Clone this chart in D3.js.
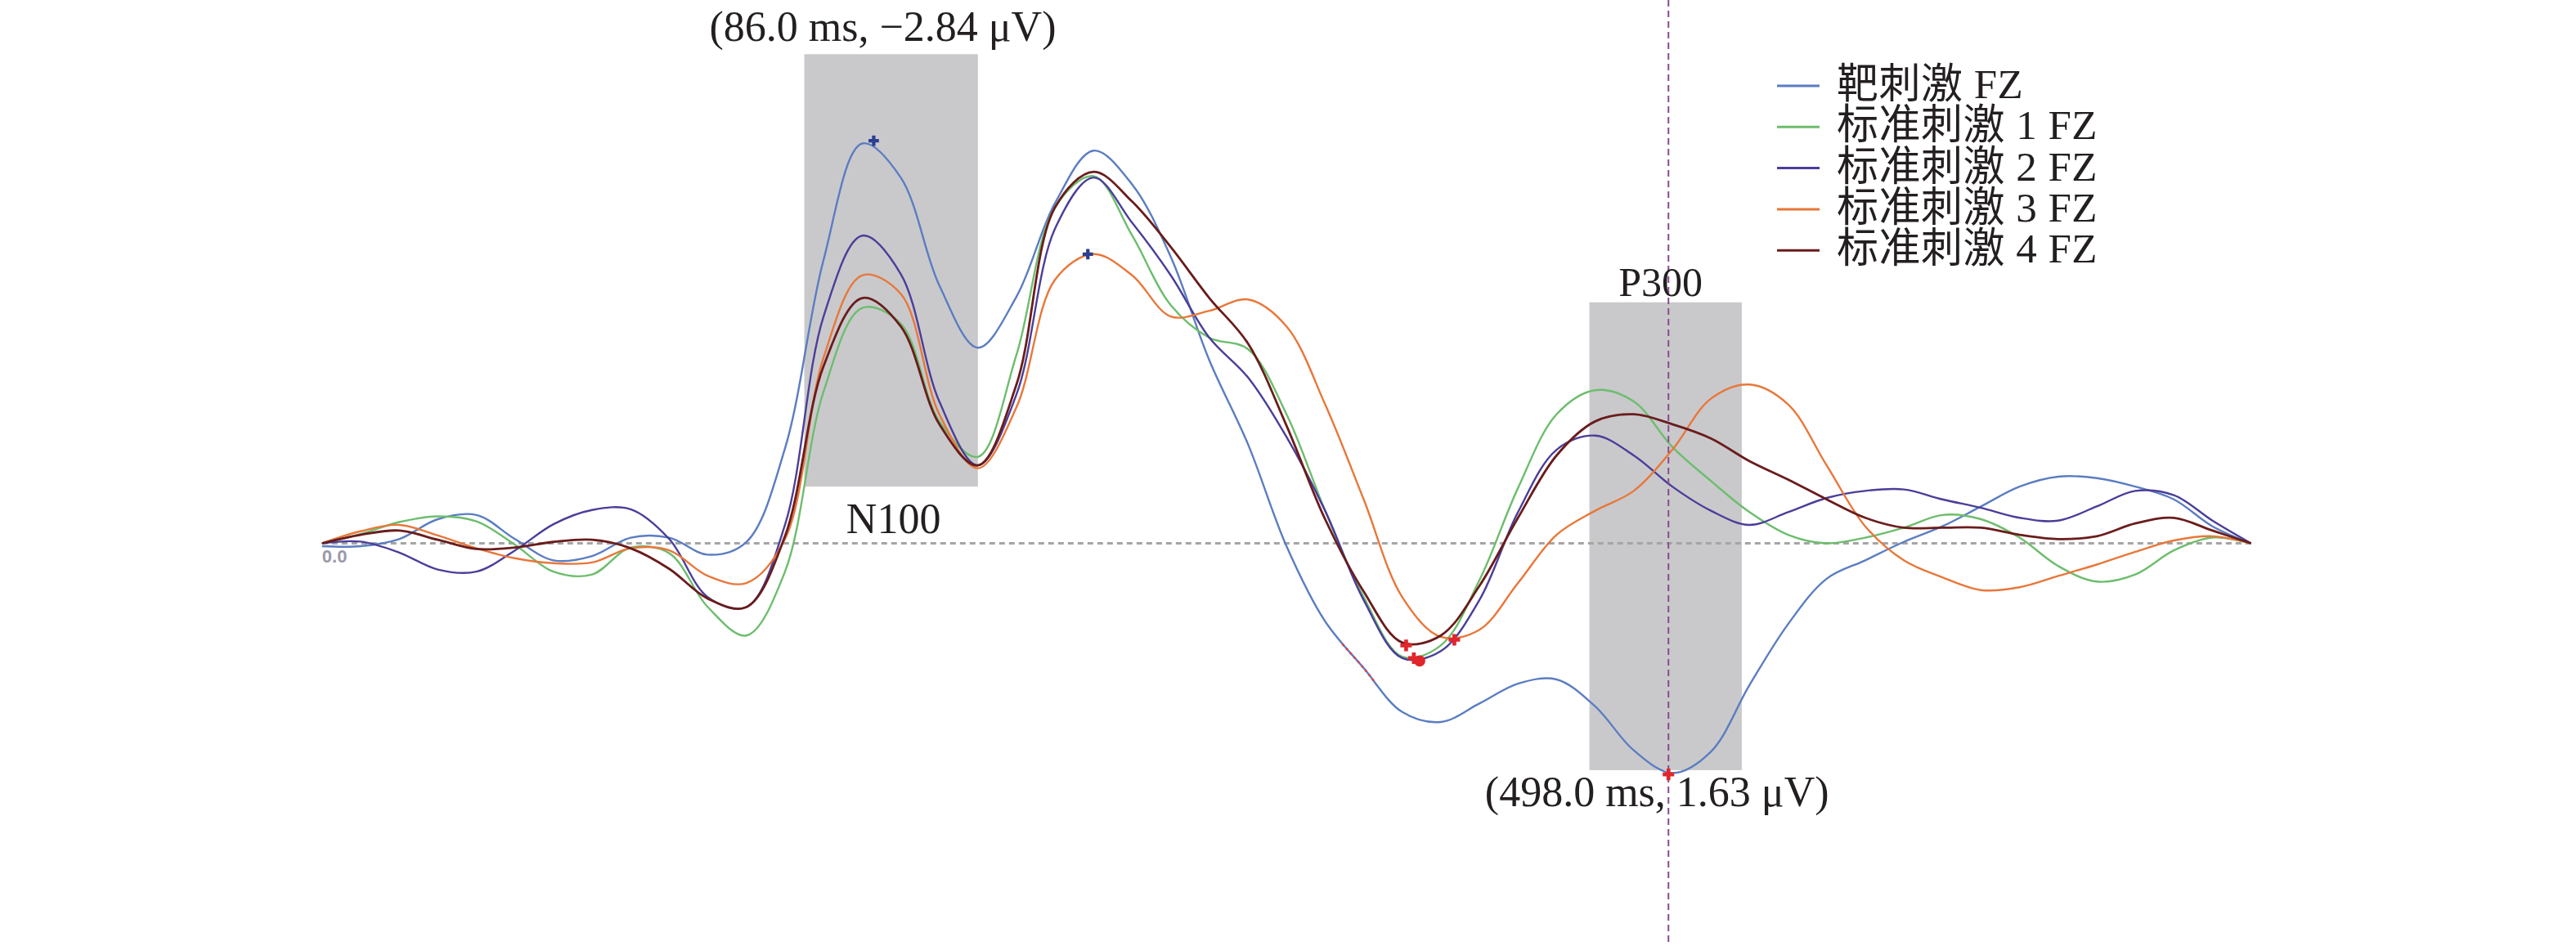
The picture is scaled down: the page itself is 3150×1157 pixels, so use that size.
<!DOCTYPE html>
<html>
<head>
<meta charset="utf-8">
<script src="https://cdn.jsdelivr.net/npm/d3@7"></script>
<style>
  html, body { margin: 0; padding: 0; background: #fff; }
  text { font-family: "Liberation Serif", "Noto Sans CJK SC", serif; fill: #231f20; }
</style>
</head>
<body>
<div class="container"></div>
<script>
// time axis (ms) and the five FZ averages (uV, negative plotted upward)
var times = [-200, -180, -160, -140, -120, -100, -80, -60, -40, -20,
             0, 20, 40, 60, 80, 100, 120, 140, 160, 180,
             200, 220, 240, 260, 280, 300, 320, 340, 360, 380,
             400, 420, 440, 460, 480, 500, 520, 540, 560, 580,
             600, 620, 640, 660, 680, 700, 720, 740, 760, 780, 800];

var target = [0.02, 0.02, -0.03, -0.17, -0.20, -0.03, 0.12, 0.09, -0.04, -0.04,
              0.08, -0.01, -0.67, -2.00, -2.82, -2.58, -1.82, -1.38, -1.74, -2.40,
              -2.77, -2.53, -2.02, -1.29, -0.70, 0.02, 0.55, 0.88, 1.19, 1.26,
              1.13, 0.99, 0.96, 1.15, 1.46, 1.62, 1.47, 1.00, 0.57, 0.25,
              0.12, -0.01, -0.12, -0.26, -0.40, -0.47, -0.46, -0.40, -0.31, -0.12, 0.00];

var std1 = [0.00, -0.065, -0.15, -0.19, -0.155, 0.01, 0.20, 0.22, 0.03, 0.07,
            0.45, 0.65, 0.20, -1.07, -1.66, -1.55, -0.86, -0.61, -1.33, -2.37,
            -2.59, -2.17, -1.68, -1.45, -1.37, -0.91, -0.23, 0.38, 0.80, 0.72,
            0.26, -0.39, -0.91, -1.08, -1.00, -0.68, -0.44, -0.22, -0.06, 0.00,
            -0.04, -0.11, -0.20, -0.17, -0.04, 0.16, 0.27, 0.22, 0.05, -0.04, 0.00];

var std2 = [0.00, -0.012, 0.065, 0.185, 0.20, 0.05, -0.135, -0.235, -0.24, -0.03,
            0.38, 0.45, -0.13, -1.60, -2.17, -1.90, -1.00, -0.55, -1.05, -2.22,
            -2.58, -2.26, -1.89, -1.45, -1.17, -0.75, -0.23, 0.40, 0.81, 0.76,
            0.40, -0.22, -0.66, -0.76, -0.62, -0.40, -0.23, -0.13, -0.22, -0.32,
            -0.37, -0.38, -0.31, -0.25, -0.18, -0.16, -0.26, -0.37, -0.34, -0.16, 0.00];

var std3 = [0.00, -0.085, -0.13, -0.055, 0.035, 0.105, 0.14, 0.135, 0.035, 0.05,
            0.23, 0.28, -0.03, -1.31, -1.89, -1.76, -0.91, -0.53, -0.96, -1.86,
            -2.04, -1.89, -1.60, -1.64, -1.72, -1.53, -0.98, -0.31, 0.38, 0.66,
            0.61, 0.28, -0.06, -0.23, -0.37, -0.66, -1.02, -1.12, -0.98, -0.55,
            -0.12, 0.12, 0.24, 0.33, 0.31, 0.23, 0.15, 0.06, -0.02, -0.05, 0.00];

var std4 = [0.00, -0.06, -0.09, -0.025, 0.04, 0.03, -0.01, -0.025, 0.035, 0.18,
            0.39, 0.45, -0.05, -1.25, -1.73, -1.53, -0.84, -0.55, -1.12, -2.37,
            -2.62, -2.41, -2.09, -1.73, -1.41, -0.83, -0.17, 0.34, 0.70, 0.65,
            0.30, -0.18, -0.62, -0.86, -0.91, -0.84, -0.74, -0.58, -0.45, -0.31,
            -0.18, -0.11, -0.11, -0.11, -0.06, -0.03, -0.05, -0.14, -0.18, -0.09, 0.00];

var seriesNames  = ["靶刺激 FZ", "标准刺激 1 FZ", "标准刺激 2 FZ", "标准刺激 3 FZ", "标准刺激 4 FZ"];
var seriesColors = ["#5b7dc1", "#6dbd6d", "#4a3e99", "#e8773a", "#6a1c1c"];
var seriesValues = [target, std1, std2, std3, std4];

// analysis windows: [t0, t1, v0, v1]
var n100Window = [50, 140, -3.45, -0.40];
var p300Window = [457, 536, -1.70, 1.60];

// picked peaks
var bluePeaks = [[86, -2.84], [197, -2.04]];
var redPeaks  = [[362, 0.72], [366, 0.81], [369, 0.83], [387, 0.68], [498, 1.63]];
var cursorTime = 498;

var width = 3150, height = 1157;

var x = d3.scaleLinear().domain([-200, 800]).range([393.8, 2752.6]);
var y = d3.scaleLinear().domain([0, 1]).range([664.5, 837.9]);

var svg = d3.select("div.container").append("svg")
    .attr("width", width)
    .attr("height", height);

// grey windows
[n100Window, p300Window].forEach(function (w) {
  svg.append("rect")
      .attr("x", x(w[0]))
      .attr("y", y(w[2]))
      .attr("width", x(w[1]) - x(w[0]))
      .attr("height", y(w[3]) - y(w[2]))
      .attr("fill", "#c9c9cc");
});

// zero line
svg.append("line")
    .attr("x1", x(-200)).attr("x2", x(800))
    .attr("y1", y(0)).attr("y2", y(0))
    .attr("stroke", "#a5a5a5")
    .attr("stroke-width", 3)
    .attr("stroke-dasharray", "7,5");

svg.append("text")
    .attr("x", x(-200))
    .attr("y", y(0) + 23)
    .style("font-family", "'Liberation Sans', sans-serif")
    .style("font-size", "22px")
    .style("font-weight", "bold")
    .style("fill", "#9a9aaa")
    .text("0.0");

var line = d3.line()
    .curve(d3.curveCatmullRom.alpha(0.5))
    .x(function (d) { return x(d[0]); })
    .y(function (d) { return y(d[1]); });

var plotData = seriesValues.map(function (vals) {
  return times.map(function (t, i) { return [t, vals[i]]; });
});

plotData.forEach(function (dat, i) {
  svg.append("path")
      .datum(dat)
      .attr("fill", "none")
      .attr("stroke", seriesColors[i])
      .attr("stroke-width", i == 4 ? 2.8 : 2.4)
      .attr("stroke-linejoin", "round")
      .attr("d", line);
});

// red highlighted bit on the target curve
svg.append("clipPath").attr("id", "hl")
  .append("rect")
    .attr("x", x(328)).attr("width", x(346) - x(328))
    .attr("y", 0).attr("height", height);
svg.append("path")
    .datum(plotData[0])
    .attr("fill", "none")
    .attr("stroke", "#e0454a")
    .attr("stroke-width", 2.6)
    .attr("stroke-dasharray", "3,4")
    .attr("clip-path", "url(#hl)")
    .attr("d", line);

// cursor line
svg.append("line")
    .attr("x1", x(cursorTime)).attr("x2", x(cursorTime))
    .attr("y1", 0).attr("y2", height)
    .attr("stroke", "#8a4a8f")
    .attr("stroke-width", 2)
    .attr("stroke-dasharray", "8,5");

var cross = d3.symbol().type(d3.symbolCross);

svg.selectAll("path.bpk")
    .data(bluePeaks).enter().append("path")
    .attr("class", "bpk")
    .attr("d", cross.size(90)())
    .attr("fill", "#2b3f8f")
    .attr("transform", function (d) { return "translate(" + x(d[0]) + "," + y(d[1]) + ")"; });

svg.selectAll("path.rpk")
    .data(redPeaks).enter().append("path")
    .attr("class", "rpk")
    .attr("d", function (d, i) { return d3.symbol().type(i == 2 ? d3.symbolCircle : d3.symbolCross).size(i == 2 ? 150 : 110)(); })
    .attr("fill", "#e0262b")
    .attr("transform", function (d) { return "translate(" + x(d[0]) + "," + y(d[1]) + ")"; });

// labels
svg.append("text")
    .attr("x", x(86) + 11).attr("y", 50)
    .attr("text-anchor", "middle")
    .style("font-size", "52px")
    .text("(86.0 ms, \u22122.84 \u03bcV)");

svg.append("text")
    .attr("x", x(498) - 14).attr("y", 986)
    .attr("text-anchor", "middle")
    .style("font-size", "52px")
    .text("(498.0 ms, 1.63 \u03bcV)");

svg.append("text")
    .attr("x", (x(n100Window[0]) + x(n100Window[1])) / 2 + 3)
    .attr("y", 652)
    .attr("text-anchor", "middle")
    .style("font-size", "52px")
    .text("N100");

svg.append("text")
    .attr("x", (x(p300Window[0]) + x(p300Window[1])) / 2 - 6)
    .attr("y", 362)
    .attr("text-anchor", "middle")
    .style("font-size", "50px")
    .text("P300");

// legend
var legend = svg.append("g").attr("transform", "translate(2173,105)");
seriesNames.forEach(function (name, i) {
  legend.append("line")
      .attr("x1", 0).attr("x2", 52)
      .attr("y1", i * 50.3).attr("y2", i * 50.3)
      .attr("stroke", seriesColors[i])
      .attr("stroke-width", 3);
  legend.append("text")
      .attr("x", 73)
      .attr("y", i * 50.3 + 15)
      .style("font-size", "51px")
      .style("letter-spacing", "0.5px")
      .text(name);
});
</script>
</body>
</html>
